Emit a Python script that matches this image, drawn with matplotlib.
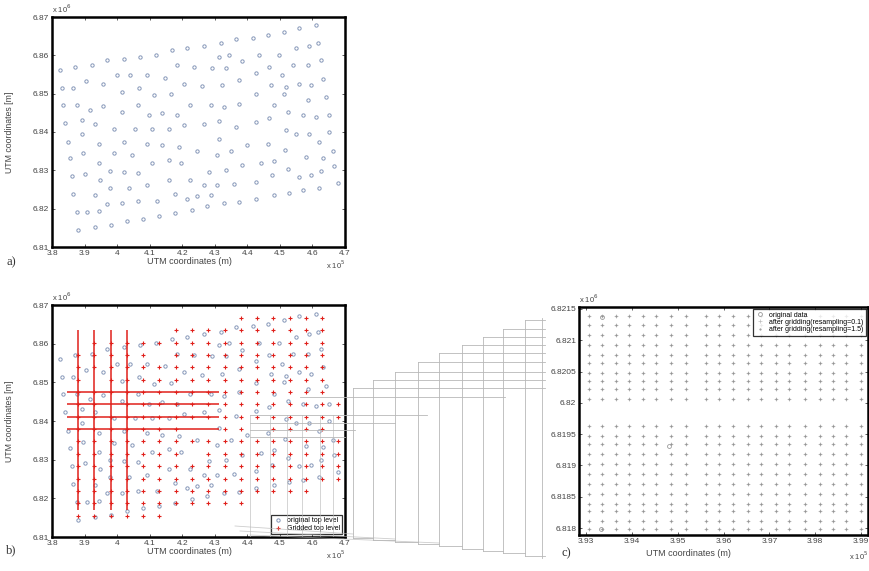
import numpy as np
import matplotlib
matplotlib.use("Agg")
import matplotlib.pyplot as plt
from matplotlib.ticker import FuncFormatter, FixedLocator

# ---------------- data ----------------
# original top-level points (UTM, km)
orig_e_km = [
    396.9, 402.0, 407.1, 411.8, 416.9, 421.5, 382.5, 387.1, 392.2, 399.9,
    404.0, 409.2, 414.8, 418.4, 423.6, 383.0, 386.6, 390.5, 395.8, 401.5,
    406.6, 411.2, 416.4, 420.5, 383.5, 387.6, 391.7, 395.8, 401.5, 406.3,
    409.9, 413.8, 418.4, 422.5, 384.0, 389.2, 393.3, 398.9, 405.6, 410.7,
    415.9, 420.5,
    461.1, 455.9, 451.3, 446.2, 441.6, 436.4, 431.8, 426.6, 461.6, 459.0,
    454.9, 449.8, 443.6, 438.5, 434.4, 431.3, 462.6, 458.5, 453.9, 450.8,
    446.7, 442.6, 433.3, 429.2, 463.1, 459.5, 455.9, 451.8, 447.2, 437.4,
    432.3, 426.2, 464.2, 458.5, 451.3, 442.6, 437.4, 432.8, 428.7, 465.2,
    461.1, 457.0, 452.4, 448.2, 442.6, 436.4, 431.3, 426.6, 446.6, 451.8,
    389.2, 385.0, 394.3, 402.0, 409.2, 413.8, 418.9, 424.6, 385.5, 389.6,
    398.9, 404.6, 410.7, 415.9, 419.5, 386.1, 390.2, 394.3, 394.8, 397.9,
    402.0, 406.3, 409.2, 415.9, 422.5, 386.6, 393.3, 397.9, 403.8, 396.9,
    401.5, 406.3, 412.3, 417.9, 421.5, 424.6, 387.6, 390.9, 394.3, 393.3,
    388.1, 398.1, 403.0, 408.1, 412.8, 417.9, 423.1,
    454.9, 459.0, 465.2, 431.3, 440.0, 446.2, 451.6, 462.1, 466.2, 430.8,
    434.9, 438.5, 444.1, 448.2, 452.4, 458.0, 463.1, 466.7, 428.2, 433.3,
    442.6, 447.5, 455.9, 459.5, 462.6, 467.8, 426.6, 430.8, 435.9, 448.2,
    452.7, 457.0, 462.1, 428.7, 432.8, 437.4, 442.6, 427.7,
]
orig_n_km = [
    6858.7, 6859.1, 6859.6, 6860.2, 6861.3, 6861.8, 6856.1, 6857.0, 6857.4, 6854.8,
    6854.8, 6854.8, 6854.1, 6857.4, 6857.0, 6851.5, 6851.5, 6853.2, 6852.6, 6850.4,
    6851.5, 6849.6, 6849.8, 6852.6, 6847.0, 6847.0, 6845.7, 6846.8, 6845.2, 6847.0,
    6844.5, 6845.0, 6844.5, 6847.0, 6842.4, 6843.1, 6842.2, 6840.9, 6840.9, 6840.9,
    6840.9, 6841.7,
    6867.8, 6867.1, 6866.1, 6865.2, 6864.5, 6864.2, 6863.1, 6862.4, 6863.1, 6862.4,
    6861.8, 6860.2, 6860.2, 6858.4, 6860.2, 6859.6, 6858.7, 6857.4, 6857.4, 6854.8,
    6857.0, 6855.5, 6856.7, 6856.7, 6853.9, 6852.2, 6852.6, 6851.7, 6852.2, 6853.5,
    6852.2, 6852.0, 6849.1, 6848.3, 6850.0, 6849.8, 6847.4, 6846.5, 6847.0, 6844.4,
    6843.9, 6844.4, 6845.2, 6847.0, 6842.6, 6841.3, 6842.8, 6842.2, 6843.6, 6840.4,
    6839.4, 6837.4, 6837.0, 6837.4, 6836.8, 6836.5, 6836.1, 6835.0, 6833.1, 6834.5,
    6834.4, 6833.9, 6831.9, 6832.8, 6831.9, 6828.4, 6829.1, 6831.9, 6827.6, 6829.8,
    6829.6, 6829.3, 6826.1, 6827.6, 6827.6, 6823.7, 6823.5, 6825.5, 6825.5, 6821.3,
    6821.5, 6822.0, 6822.0, 6823.9, 6822.6, 6823.2, 6819.1, 6819.1, 6819.3, 6815.1,
    6814.4, 6815.8, 6816.8, 6817.4, 6818.0, 6818.9, 6819.7,
    6839.6, 6839.4, 6840.0, 6838.3, 6836.5, 6836.8, 6835.4, 6837.4, 6835.0, 6833.9,
    6835.0, 6831.3, 6831.8, 6832.4, 6830.4, 6833.5, 6833.3, 6831.1, 6829.6, 6830.0,
    6827.0, 6828.7, 6828.3, 6828.7, 6829.8, 6826.7, 6826.1, 6826.1, 6826.4, 6823.5,
    6824.1, 6824.8, 6825.5, 6823.5, 6821.5, 6821.7, 6822.6, 6820.6,
]

# grid nodes used for the gridded top level (km)
grid_e_km = [388, 393, 398, 403, 408, 413, 418, 423, 428, 433, 438, 443, 448,
             453, 458, 463, 468]
grid_n_km = [6815.5, 6818.7, 6821.9, 6825.1, 6828.3, 6831.5, 6834.7, 6837.9,
             6841.1, 6844.3, 6847.5, 6850.7, 6853.9, 6857.1, 6860.3, 6863.5,
             6866.7]
highlight_cols = [388, 393, 398, 403]
highlight_rows = [6837.9, 6841.1, 6844.3, 6847.5]
highlight_col_span_km = (6816.9, 6863.5)
highlight_row_span_km = (384.5, 431.2)

# panel c: zoomed grid (m)
zoom_grid_e = [393072, 393362, 393655, 393945, 394236, 394528, 394856, 395183,
               395620, 395910, 396200, 396528, 396820, 397148, 397438, 397766,
               398093, 398383, 398676, 399003]
zoom_grid_n = [6821379, 6821247, 6821088, 6820929, 6820770, 6820636, 6820477,
               6820345, 6820213, 6820054, 6819629, 6819470, 6819338, 6819179,
               6819020, 6818861, 6818702, 6818543, 6818384, 6818277, 6818118,
               6817986]
zoom_orig_e = [394803, 393356, 393327]
zoom_orig_n = [6819311, 6821378, 6817990]

x_ticks_ab = [380000, 390000, 400000, 410000, 420000, 430000, 440000, 450000,
              460000, 470000]
y_ticks_ab = [6810000, 6820000, 6830000, 6840000, 6850000, 6860000, 6870000]
x_ticks_c = [393000, 394000, 395000, 396000, 397000, 398000, 399000]
y_ticks_c = [6818000, 6818500, 6819000, 6819500, 6820000, 6820500, 6821000,
             6821500]

# ---------------- figure ----------------
W, H = 869, 571
plt.rcParams['font.family'] = ['Liberation Sans', 'DejaVu Sans']
fig = plt.figure(figsize=(W / 100, H / 100), dpi=100)


def px_rect(l, t, r, b):
    return [l / W, 1 - b / H, (r - l) / W, (b - t) / H]


E = np.array(orig_e_km) * 1000.0
N = np.array(orig_n_km) * 1000.0
BLUE = '#8596b8'
RED = '#e0201b'
TXT = '#444444'
TICK_FS = 6


def style_axes(ax, xt, yt, xdiv, ydiv):
    for s in ax.spines.values():
        s.set_linewidth(1.8)
        s.set_color('black')
    ax.xaxis.set_major_locator(FixedLocator(xt))
    ax.yaxis.set_major_locator(FixedLocator(yt))
    ax.xaxis.set_major_formatter(FuncFormatter(lambda v, p: '%g' % round(v / xdiv, 6)))
    ax.yaxis.set_major_formatter(FuncFormatter(lambda v, p: '%g' % round(v / ydiv, 6)))
    ax.tick_params(direction='in', length=2.5, width=0.6, labelsize=TICK_FS,
                   top=True, right=True, pad=2, colors=TXT)


def common_ab(ax):
    ax.set_xlim(380000, 470000)
    ax.set_ylim(6810000, 6870000)
    style_axes(ax, x_ticks_ab, y_ticks_ab, 1e5, 1e6)
    ax.set_xlabel('UTM coordinates (m)', fontsize=6.5, color=TXT)
    ax.set_ylabel('UTM coordinates [m]', fontsize=6.3, color=TXT)
    ax.xaxis.set_label_coords(0.47, -0.045)
    ax.yaxis.set_label_coords(-0.128, 0.5)
    ax.text(1.0, -0.05, r'x 10$^5$', transform=ax.transAxes, ha='right',
            va='top', fontsize=5.5, color=TXT)
    ax.text(0.0, 1.01, r'x 10$^6$', transform=ax.transAxes, ha='left',
            va='bottom', fontsize=5.5, color=TXT)


# panel a
ax_a = fig.add_axes(px_rect(52, 17, 345, 247))
ax_a.plot(E, N, 'o', ms=2.4, mfc='none', mec=BLUE, mew=0.7, ls='none')
common_ab(ax_a)

# panel b
ax_b = fig.add_axes(px_rect(52, 305, 345, 537))
GE, GN = np.meshgrid(np.array(grid_e_km) * 1000.0, np.array(grid_n_km) * 1000.0)
ge, gn = GE.ravel(), GN.ravel()
dist = np.min(np.hypot(ge[:, None] - E[None, :], gn[:, None] - N[None, :]), axis=1)
keep = dist < 3300
ax_b.plot(E, N, 'o', ms=2.4, mfc='none', mec=BLUE, mew=0.7, ls='none',
          label='original top level')
ax_b.plot(ge[keep], gn[keep], '+', ms=3.2, color=RED, mec=RED, mew=0.8, ls='none',
          label='Gridded top level')
ax_b.vlines(np.array(highlight_cols) * 1000.0, highlight_col_span_km[0] * 1000,
            highlight_col_span_km[1] * 1000, colors=RED, lw=1.1)
ax_b.hlines(np.array(highlight_rows) * 1000.0, highlight_row_span_km[0] * 1000,
            highlight_row_span_km[1] * 1000, colors=RED, lw=1.1)
common_ab(ax_b)
leg = ax_b.legend(loc='lower right', fontsize=5, frameon=True, fancybox=False,
                  edgecolor='black', borderpad=0.3, handlelength=1.5,
                  labelspacing=0.1, borderaxespad=0.4, handletextpad=0.5)
leg.get_frame().set_linewidth(0.9)

# panel c
ax_c = fig.add_axes(px_rect(579, 307, 868, 535))
ZE, ZN = np.meshgrid(zoom_grid_e, zoom_grid_n)
ax_c.plot(zoom_orig_e, zoom_orig_n, 'o', ms=2.8, mfc='none', mec='#999999',
          mew=0.6, ls='none', label='original data')
ax_c.plot(ZE.ravel(), ZN.ravel(), '+', ms=2.4, color='#bdbdbd', mec='#bdbdbd',
          mew=0.5, ls='none', label='after gridding(resampling=0.1)')
ax_c.plot(ZE.ravel(), ZN.ravel(), '.', ms=1.0, color='#8a8a8a', mec='#8a8a8a',
          mfc='#8a8a8a', ls='none', label='after gridding(resampling=1.5)')
ax_c.set_xlim(392850, 399150)
ax_c.set_ylim(6817890, 6821530)
style_axes(ax_c, x_ticks_c, y_ticks_c, 1e5, 1e6)
ax_c.set_xlabel('UTM coordinates (m)', fontsize=6.5, color=TXT)
ax_c.xaxis.set_label_coords(0.38, -0.06)
ax_c.text(1.0, -0.065, r'x 10$^5$', transform=ax_c.transAxes, ha='right',
          va='top', fontsize=5.5, color=TXT)
ax_c.text(0.0, 1.01, r'x 10$^6$', transform=ax_c.transAxes, ha='left',
          va='bottom', fontsize=5.5, color=TXT)
leg_c = ax_c.legend(loc='upper right', fontsize=5, frameon=True, fancybox=False,
                    edgecolor='black', borderpad=0.35, handlelength=1.5,
                    labelspacing=0.05, borderaxespad=0.3, handletextpad=0.5)
leg_c.get_frame().set_linewidth(0.9)

# panel labels
for txt, (px, py) in {'a)': (11, 262), 'b)': (11, 550), 'c)': (566, 553)}.items():
    fig.text(px / W, 1 - py / H, txt, ha='center', va='center', fontsize=9,
             family='Liberation Serif', color='#333333')

# ---------------- connector lines between panel b and c (layout, px) ----------------
ov = fig.add_axes([0, 0, 1, 1], zorder=5)
ov.set_xlim(0, W)
ov.set_ylim(H, 0)
ov.axis('off')
ov.patch.set_alpha(0)
LC = '#b8b8b8'
LW = 0.6
conn_x = [353, 373, 395, 418, 439, 462, 483, 503, 525]
conn_y = [388, 380, 372, 362, 353, 345, 337, 329, 320]
conn_bottom = [538, 540, 542, 544, 546, 549, 551, 553, 556]
conn_right = 545
for i, (cx, cy, cb) in enumerate(zip(conn_x, conn_y, conn_bottom)):
    ov.plot([cx, conn_right], [cy, cy], color=LC, lw=LW)
    ov.plot([cx, cx], [cy, cb], color=LC, lw=LW)
    nx = conn_x[i + 1] if i + 1 < len(conn_x) else conn_right
    ov.plot([cx, nx], [cb, cb], color=LC, lw=LW)
ov.plot([conn_right - 3, conn_right - 3], [318, 558], color=LC, lw=LW)
low_y = [397, 415, 423, 430, 437]
low_x0 = [300, 250, 250, 250, 250]
low_x1 = [505, 427, 395, 355, 345]
for y, x0, x1 in zip(low_y, low_x0, low_x1):
    ov.plot([x0, x1], [y, y], color=LC, lw=LW)
for x in [250, 270, 287, 302, 320, 333]:
    ov.plot([x, x], [415, 536], color=LC, lw=LW, alpha=0.7)
for y0, x0, x1 in [(526, 235, 353), (531, 240, 395), (535, 250, 439)]:
    ov.plot([x0, x1], [y0, y0 + 8], color=LC, lw=LW, alpha=0.7)

fig.savefig('out.png', dpi=100, facecolor='white')
